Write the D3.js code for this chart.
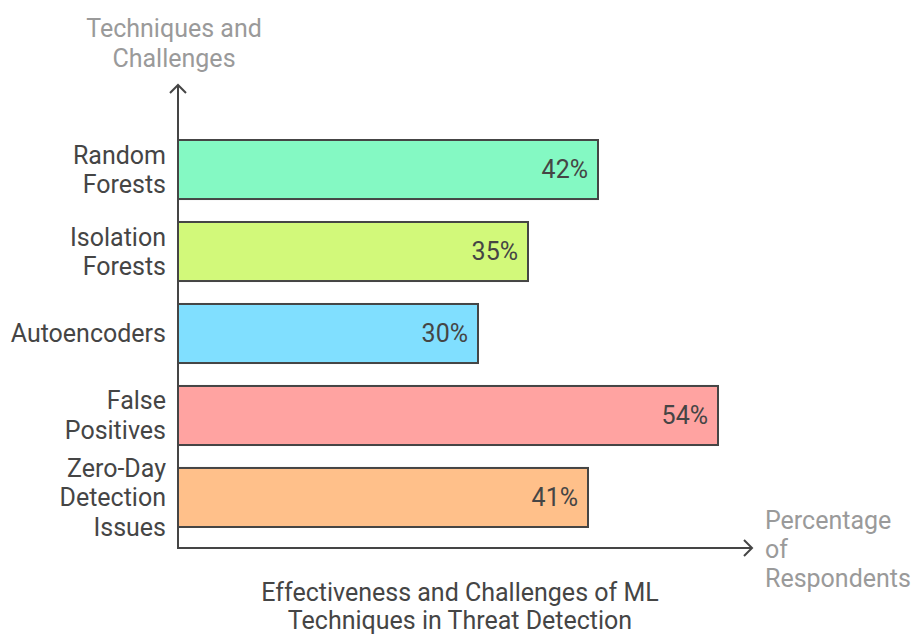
<!DOCTYPE html>
<html><head><meta charset="utf-8">
<script src="https://cdn.jsdelivr.net/npm/d3@7"></script>
<style>body{margin:0;background:#fff}svg{display:block;font-family:Roboto,"Noto Sans",sans-serif}</style>
</head><body>
<svg id="c" width="912" height="635"></svg>
<script>
const categories = [["Random","Forests"],["Isolation","Forests"],["Autoencoders"],["False","Positives"],["Zero-Day","Detection","Issues"]];
const values = [42, 35, 30, 54, 41];
const colors = ["#84F9C3", "#D2F97A", "#80DFFF", "#FFA3A1", "#FFC08A"];
const yTitle = ["Techniques and", "Challenges"];
const xTitle = ["Percentage", "of", "Respondents"];
const title = ["Effectiveness and Challenges of ML", "Techniques in Threat Detection"];

const svg = d3.select("#c");
const x = d3.scaleLinear().domain([0, 10]).range([178, 278]);
const y = d3.scaleBand().domain(d3.range(categories.length)).range([140, 527]).paddingInner(0.28).paddingOuter(0);
const ink = "#454545";
const fs = 25;

// bars
svg.selectAll("rect.bar").data(values).join("rect")
  .attr("x", x(0)).attr("y", (d,i)=>y(i))
  .attr("width", d=>x(d)-x(0)).attr("height", y.bandwidth())
  .attr("fill", (d,i)=>colors[i]).attr("stroke", ink).attr("stroke-width", 2);

// value labels
svg.selectAll("text.val").data(values).join("text")
  .attr("x", d=>x(d)-10).attr("y", (d,i)=>y(i)+y.bandwidth()/2)
  .attr("dy", "0.35em").attr("text-anchor", "end")
  .attr("font-size", fs).attr("fill", ink).text(d=>d+"%");

// category labels
const lh = 29.5;
categories.forEach((lines, i) => {
  const cy = y(i) + y.bandwidth()/2;
  const t = svg.append("text").attr("text-anchor","end").attr("font-size",fs).attr("fill",ink);
  lines.forEach((l, j) => {
    t.append("tspan").attr("x", 166).attr("y", cy + (j - (lines.length-1)/2)*lh).attr("dy","0.35em").text(l);
  });
});

// axes
svg.append("line").attr("x1",x(0)).attr("x2",x(0)).attr("y1",85).attr("y2",549).attr("stroke",ink).attr("stroke-width",2);
svg.append("line").attr("x1",x(0)-1).attr("x2",752).attr("y1",548).attr("y2",548).attr("stroke",ink).attr("stroke-width",2);
svg.append("path").attr("d",`M${x(0)-8},${93} L${x(0)},${85} L${x(0)+8},${93}`).attr("fill","none").attr("stroke",ink).attr("stroke-width",2);
svg.append("path").attr("d",`M744,540 L752,548 L744,556`).attr("fill","none").attr("stroke",ink).attr("stroke-width",2);

// axis titles
const gray = "#9a9a9a";
const yt = svg.append("text").attr("text-anchor","middle").attr("font-size",fs).attr("fill",gray);
yTitle.forEach((l,j)=>yt.append("tspan").attr("x",174).attr("y",28+j*30).attr("dy","0.35em").text(l));
const xt = svg.append("text").attr("text-anchor","start").attr("font-size",fs).attr("fill",gray);
xTitle.forEach((l,j)=>xt.append("tspan").attr("x",765).attr("y",520+j*29).attr("dy","0.35em").text(l));
const tt = svg.append("text").attr("text-anchor","middle").attr("font-size",fs).attr("fill",ink);
title.forEach((l,j)=>tt.append("tspan").attr("x",460).attr("y",592+j*28.5).attr("dy","0.35em").text(l));
</script>
</body></html>
